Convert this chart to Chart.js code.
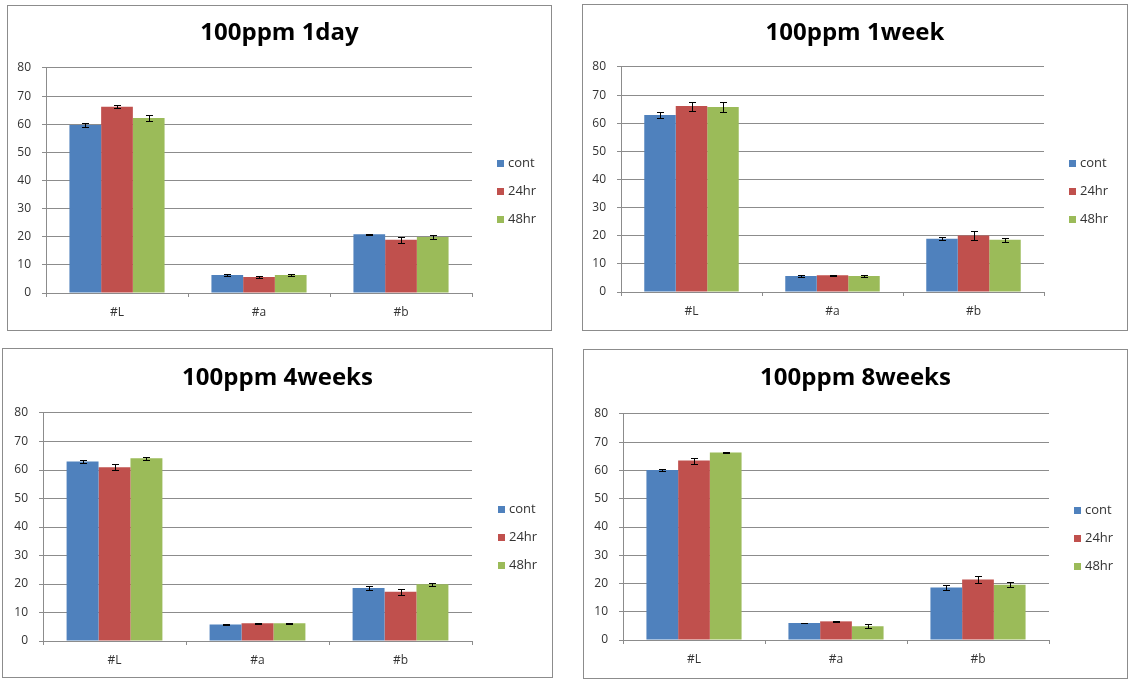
<!DOCTYPE html>
<html><head><meta charset="utf-8">
<script src="https://cdn.jsdelivr.net/npm/chart.js@4.4.0/dist/chart.umd.min.js"></script>
<style>
html,body{margin:0;padding:0;background:#fff;}
body{width:1128px;height:681px;position:relative;overflow:hidden;}
.panel{position:absolute;border:1px solid #8c8c8c;background:#fff;box-sizing:border-box;}
.panel canvas{display:block;}
</style></head><body>
<div class="panel" style="left:7px;top:5px;width:545px;height:326px;"><canvas id="c1" width="543" height="324"></canvas></div>
<div class="panel" style="left:582px;top:4px;width:546px;height:327px;"><canvas id="c2" width="544" height="325"></canvas></div>
<div class="panel" style="left:2px;top:348px;width:551px;height:330px;"><canvas id="c3" width="549" height="328"></canvas></div>
<div class="panel" style="left:583px;top:349px;width:545px;height:330px;"><canvas id="c4" width="543" height="328"></canvas></div>
<script>
// ---- data ----
const categories = ['#L', '#a', '#b'];
const seriesNames = ['cont', '24hr', '48hr'];
const seriesColors = ['#4F81BD', '#C0504D', '#9BBB59'];
const yTicks = [0, 10, 20, 30, 40, 50, 60, 70, 80];
const titles = ['100ppm 1day', '100ppm 1week', '100ppm 4weeks', '100ppm 8weeks'];

// 100ppm 1day
const day1Cont = [59.7, 6.4, 20.9];
const day1H24 = [66.2, 5.7, 18.9];
const day1H48 = [62.2, 6.4, 19.9];
const day1ContErr = [0.8, 0.2, 0.2];
const day1H24Err = [0.6, 0.3, 1.1];
const day1H48Err = [1.0, 0.2, 0.6];

// 100ppm 1week
const week1Cont = [62.9, 5.7, 18.9];
const week1H24 = [66.1, 6.0, 20.1];
const week1H48 = [65.8, 5.7, 18.6];
const week1ContErr = [1.0, 0.2, 0.5];
const week1H24Err = [1.6, 0.2, 1.5];
const week1H48Err = [1.7, 0.2, 0.7];

// 100ppm 4weeks
const week4Cont = [63.0, 5.8, 18.6];
const week4H24 = [61.0, 6.2, 17.3];
const week4H48 = [64.1, 6.2, 19.9];
const week4ContErr = [0.6, 0.1, 0.8];
const week4H24Err = [1.0, 0.2, 1.0];
const week4H48Err = [0.5, 0.2, 0.5];

// 100ppm 8weeks
const week8Cont = [60.2, 6.0, 18.6];
const week8H24 = [63.5, 6.6, 21.4];
const week8H48 = [66.4, 4.9, 19.6];
const week8ContErr = [0.4, 0.1, 0.9];
const week8H24Err = [1.1, 0.3, 1.2];
const week8H48Err = [0.2, 0.6, 0.8];

// ---- plugins ----
const errorBars = {
  id: 'errorBars',
  afterDatasetsDraw(chart) {
    const ctx = chart.ctx, y = chart.scales.y;
    chart.data.datasets.forEach((ds, i) => {
      const meta = chart.getDatasetMeta(i);
      meta.data.forEach((bar, j) => {
        const v = ds.data[j], e = ds.errors[j];
        const yt = Math.round(y.getPixelForValue(v + e)) + 0.5;
        const yb = Math.round(y.getPixelForValue(v - e)) + 0.5;
        const x = Math.round(bar.x) + 0.5;
        ctx.save();
        ctx.strokeStyle = '#000';
        ctx.lineWidth = 1;
        ctx.beginPath();
        ctx.moveTo(x, yt); ctx.lineTo(x, yb);
        ctx.moveTo(x - 3.5, yt); ctx.lineTo(x + 3.5, yt);
        ctx.moveTo(x - 3.5, yb); ctx.lineTo(x + 3.5, yb);
        ctx.stroke();
        ctx.restore();
      });
    });
  }
};

const sideLegend = {
  id: 'sideLegend',
  afterDraw(chart, args, opts) {
    const ctx = chart.ctx;
    ctx.save();
    ctx.font = '13px "Open Sans", sans-serif';
    ctx.textBaseline = 'middle';
    ctx.textAlign = 'left';
    chart.data.datasets.forEach((ds, i) => {
      const cy = opts.y + i * opts.gap;
      ctx.fillStyle = ds.backgroundColor;
      ctx.fillRect(opts.x, Math.round(cy - 3.5), 7, 7);
      ctx.fillStyle = '#333';
      ctx.fillText(ds.label, opts.x + 11, cy);
    });
    ctx.restore();
  }
};

Chart.defaults.font.family = '"Open Sans", sans-serif';

function makeChart(id, title, values, errors, g) {
  const canvas = document.getElementById(id);
  const W = canvas.width, H = canvas.height;
  const padTop = g.titleY - 14.4;
  return new Chart(canvas, {
    type: 'bar',
    data: {
      labels: categories,
      datasets: seriesNames.map((name, i) => ({
        label: name,
        data: values[i],
        errors: errors[i],
        backgroundColor: seriesColors[i],
        borderWidth: 0,
        categoryPercentage: 0.67,
        barPercentage: 1.0
      }))
    },
    options: {
      responsive: false,
      animation: false,
      layout: { padding: 0 },
      plugins: {
        legend: { display: false },
        tooltip: { enabled: false },
        title: {
          display: true,
          text: title,
          color: '#000',
          font: { size: 24, weight: 'bold', family: '"Open Sans", sans-serif' },
          padding: { top: padTop, bottom: g.top - padTop - 28.8 }
        },
        sideLegend: { x: g.legX, y: g.legY, gap: 28 }
      },
      scales: {
        x: {
          grid: { display: true, drawOnChartArea: false, drawTicks: true, tickLength: 4, offset: true, color: '#8c8c8c' },
          border: { display: true, color: '#8c8c8c' },
          ticks: { color: '#333', font: { size: 12 }, padding: 8 },
          afterFit: s => { s.height = H - g.bottom; }
        },
        y: {
          min: 0, max: 80,
          afterBuildTicks: s => { s.ticks = yTicks.map(v => ({ value: v })); },
          grid: { color: '#8c8c8c', tickLength: 4, drawTicks: true },
          border: { display: true, color: '#8c8c8c' },
          ticks: { color: '#333', font: { size: 12 }, padding: 11 },
          afterFit: s => { s.width = g.left; }
        },
        legendSpace: {
          type: 'linear',
          position: 'right',
          display: true,
          grid: { display: false, drawTicks: false },
          border: { display: false },
          ticks: { display: false },
          afterFit: s => { s.width = W - g.right; }
        }
      }
    },
    plugins: [errorBars, sideLegend]
  });
}

makeChart('c1', titles[0], [day1Cont, day1H24, day1H48], [day1ContErr, day1H24Err, day1H48Err],
  { left: 38, right: 464, top: 62, bottom: 287, titleY: 27, legX: 489, legY: 157 });
makeChart('c2', titles[1], [week1Cont, week1H24, week1H48], [week1ContErr, week1H24Err, week1H48Err],
  { left: 38, right: 461, top: 62, bottom: 287, titleY: 28, legX: 486, legY: 158 });
makeChart('c3', titles[2], [week4Cont, week4H24, week4H48], [week4ContErr, week4H24Err, week4H48Err],
  { left: 40, right: 469, top: 64, bottom: 292, titleY: 29, legX: 495, legY: 160 });
makeChart('c4', titles[3], [week8Cont, week8H24, week8H48], [week8ContErr, week8H24Err, week8H48Err],
  { left: 39, right: 465, top: 64, bottom: 290, titleY: 28, legX: 490, legY: 160 });
</script>
</body></html>
